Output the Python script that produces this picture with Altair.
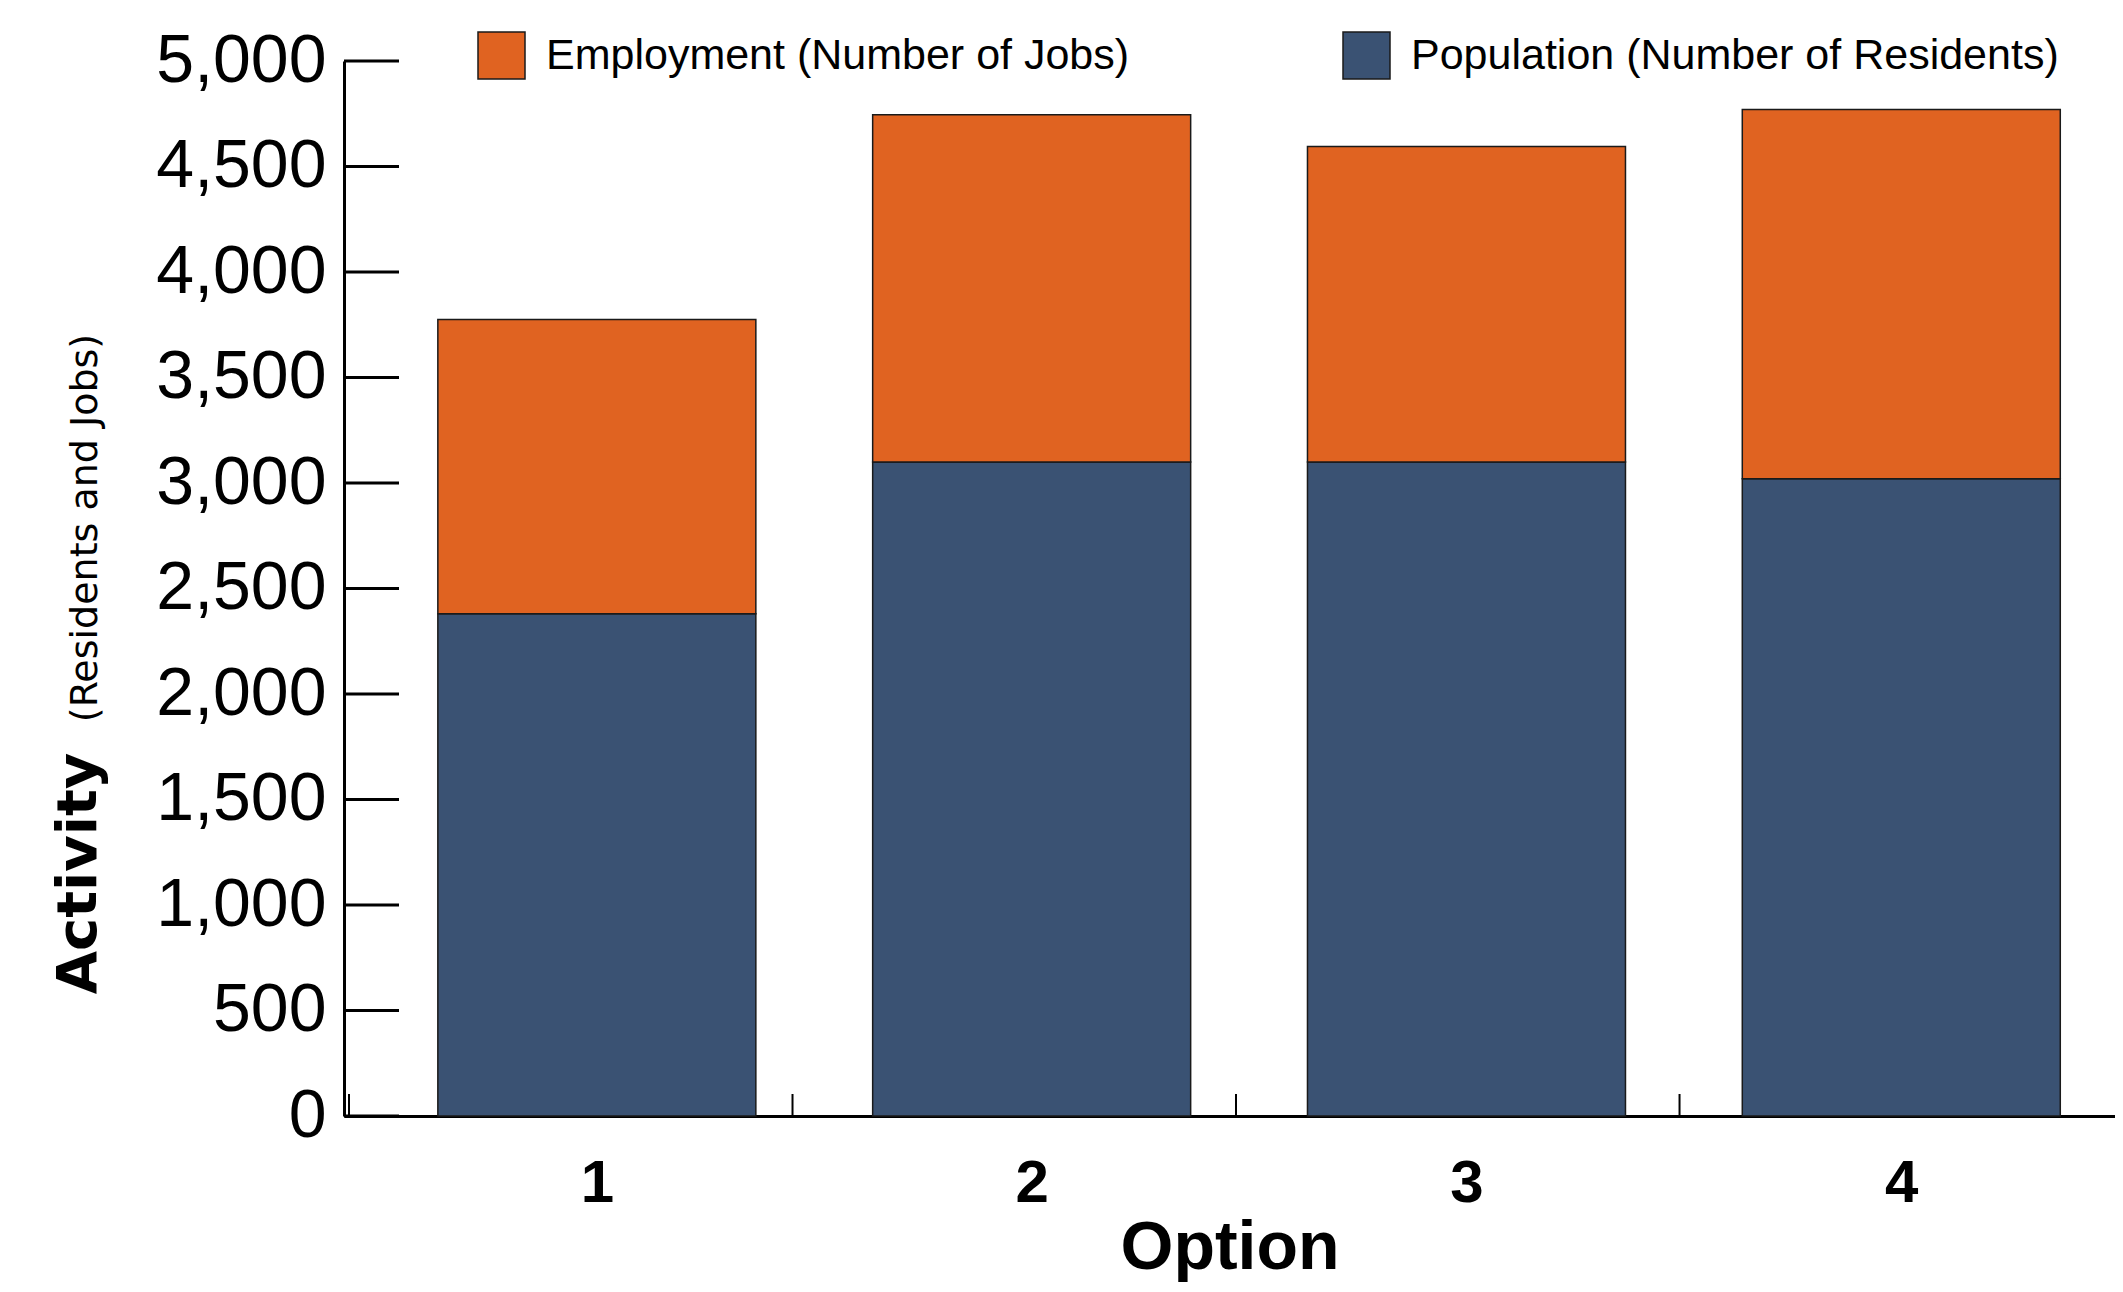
import altair as alt
import pandas as pd

# ---- data ----
options = [1, 2, 3, 4]
population = [2380, 3100, 3100, 3020]
employment = [1395, 1645, 1495, 1750]
emp_label = "Employment (Number of Jobs)"
pop_label = "Population (Number of Residents)"
y_ticks = [0, 500, 1000, 1500, 2000, 2500, 3000, 3500, 4000, 4500, 5000]
x_boundaries = [0.43, 1.45, 2.47, 3.49]

rows = []
for o, p, e in zip(options, population, employment):
    rows.append({"option": o, "category": pop_label, "value": p, "stack_order": 0})
    rows.append({"option": o, "category": emp_label, "value": e, "stack_order": 1})
df = pd.DataFrame(rows)

W, H = 1771, 1055
xscale = alt.Scale(domain=[0.43, 4.48], nice=False, zero=False)
yscale = alt.Scale(domain=[0, 5000], nice=False)

bars = alt.Chart(df).mark_bar(size=318, stroke="#1a1a1a", strokeWidth=1.5).encode(
    x=alt.X(
        "option:Q",
        scale=xscale,
        axis=alt.Axis(
            values=options, format="d", grid=False, ticks=False,
            domainColor="black", domainWidth=3,
            labelFont="Liberation Sans", labelFontWeight="bold", labelFontSize=60,
            labelColor="black", labelPadding=85, labelBaseline="alphabetic", labelFlush=False,
            title="Option", titleFont="Liberation Sans", titleFontWeight="bold",
            titleFontSize=68, titleColor="black", titleY=152, titleBaseline="alphabetic",
        ),
    ),
    y=alt.Y(
        "value:Q",
        stack="zero",
        scale=yscale,
        axis=alt.Axis(
            values=y_ticks, format=",.0f", grid=False, ticks=False,
            domainColor="black", domainWidth=3,
            labelFont="Liberation Sans", labelFontSize=68, labelColor="black",
            labelPadding=18,
            title="Activity", titleFont="DejaVu Sans", titleFontWeight="bold", titleFontSize=56,
            titleColor="black", titleAngle=270, titleX=-249, titleY=812,
            titleAlign="center", titleBaseline="alphabetic",
        ),
    ),
    color=alt.Color(
        "category:N",
        scale=alt.Scale(domain=[emp_label, pop_label], range=["#E06321", "#3A5273"]),
        legend=alt.Legend(
            orient="none", legendX=133, legendY=-30, direction="horizontal",
            title=None, symbolType="square", symbolSize=2209,
            symbolStrokeColor="#1a1a1a", symbolStrokeWidth=1.5,
            labelFont="Liberation Sans", labelFontSize=43, labelColor="black",
            labelOffset=20, columnPadding=210, labelLimit=1000, padding=0,
        ),
    ),
    order=alt.Order("stack_order:Q"),
)

ytick_df = pd.DataFrame({"v": y_ticks})
yticks = alt.Chart(ytick_df).mark_rule(color="black", strokeWidth=3).encode(
    y=alt.Y("v:Q", scale=yscale), x=alt.value(0), x2=alt.value(55)
)

xtick_df = pd.DataFrame({"b": x_boundaries})
xticks = alt.Chart(xtick_df).mark_rule(color="black", strokeWidth=2).encode(
    x=alt.X("b:Q", scale=xscale), y=alt.value(H), y2=alt.value(H - 22)
)

sub_df = pd.DataFrame({"t": ["(Residents and Jobs)"]})
subtitle = alt.Chart(sub_df).mark_text(
    angle=270, align="center", baseline="alphabetic",
    font="DejaVu Sans", fontSize=38, color="black",
).encode(x=alt.value(-247), y=alt.value(467), text="t:N")

chart = alt.layer(bars, yticks, xticks, subtitle).properties(
    width=W, height=H,
    autosize=alt.AutoSizeParams(type="none"),
    padding={"left": 336, "top": 53, "right": 0, "bottom": 166},
).configure_view(stroke=None)

chart.save("out.html", embed_options={"renderer": "svg", "actions": False})
